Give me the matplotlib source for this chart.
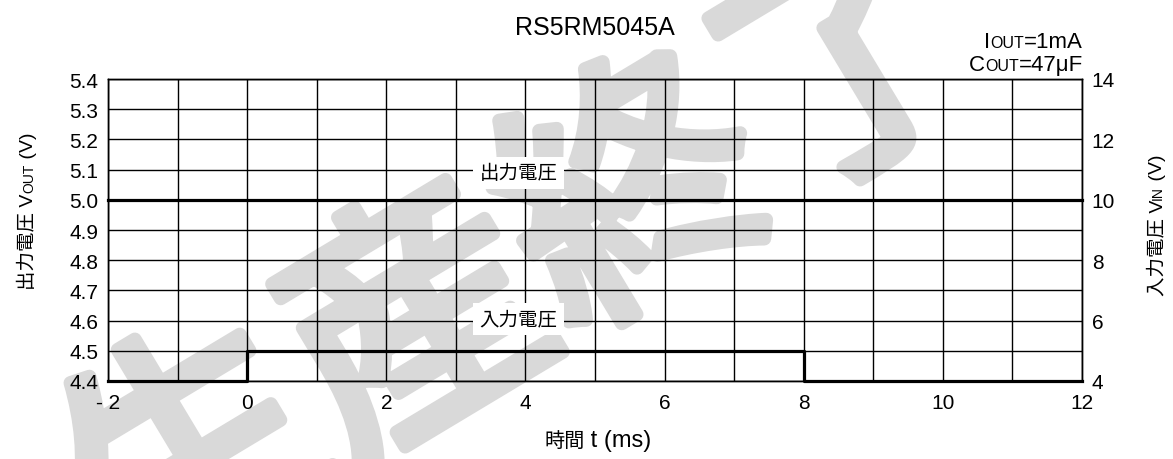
import matplotlib
matplotlib.use("Agg")
import matplotlib.pyplot as plt
import matplotlib.patheffects as pe
import numpy as np

plt.rcParams['font.family'] = ['Liberation Sans', 'Noto Sans CJK JP']

# ---- data ----
title = "RS5RM5045A"
t_out = [-2, 12]
v_out = [5.0, 5.0]
t_in = [-2, 0, 8, 12]
v_in = [4, 5, 4, 4]
x_ticks = [-2, 0, 2, 4, 6, 8, 10, 12]
x_ticklabels = ["- 2", "0", "2", "4", "6", "8", "10", "12"]
y_left_ticks = [4.4, 4.5, 4.6, 4.7, 4.8, 4.9, 5.0, 5.1, 5.2, 5.3, 5.4]
y_right_ticks = [4, 6, 8, 10, 12, 14]
label_out = "出力電圧"
label_in = "入力電圧"
watermark = "生産終了"

W, H = 1173, 460
fig = plt.figure(figsize=(W / 100, H / 100), dpi=100)
fig.patch.set_facecolor('white')

L, R, T, B = 108, 1082, 80, 382
ax = fig.add_axes([L / W, 1 - B / H, (R - L) / W, (B - T) / H])
ax.set_facecolor('none')
ax2 = ax.twinx()

# watermark
wm_color = '#d9d9d9'
fig.text(530 / W, 1 - 270 / H, watermark, fontsize=185, color=wm_color,
         rotation=31, rotation_mode='anchor', ha='center', va='center',
         family='Noto Sans CJK JP', fontweight='normal', zorder=-5,
         path_effects=[pe.withStroke(linewidth=10, foreground=wm_color)])

ax.set_xlim(-2, 12)
ax.set_ylim(4.4, 5.4)
ax.set_xticks(x_ticks)
ax.set_xticklabels(x_ticklabels)
ax.set_xticks(np.arange(-1, 12, 2), minor=True)
ax.set_yticks(y_left_ticks)
ax.set_yticklabels([f"{v:.1f}" for v in y_left_ticks])
ax.grid(True, which='both', color='black', lw=1.0)
ax.tick_params(which='both', length=0, labelsize=15, pad=7)
ax.tick_params(axis='x', pad=9)

ax2.set_ylim(4, 14)
ax2.set_yticks(y_right_ticks)
ax2.tick_params(length=0, labelsize=15, pad=7)

for a in (ax, ax2):
    for s in a.spines.values():
        s.set_linewidth(1.0)
        s.set_color('black')

ax.plot(t_out, v_out, color='black', lw=2.3, clip_on=False, zorder=4)
ax2.plot(t_in, v_in, color='black', lw=2.3, drawstyle='steps-post', clip_on=False, zorder=4)

box = dict(boxstyle='square,pad=0.35', facecolor='white', edgecolor='none')
ax.text(3.9, 5.088, label_out, fontsize=14, ha='center', va='center', bbox=box, zorder=5)
ax.text(3.9, 4.605, label_in, fontsize=14, ha='center', va='center', bbox=box, zorder=5)

fig.text(595 / W, 1 - 28 / H, title, fontsize=18, ha='center', va='center')

renderer = fig.canvas.get_renderer()


def rich(x_px, y_px, pieces, rotation=0, align='left'):
    widths = []
    for s, size in pieces:
        t = fig.text(0, 0, s, fontsize=size)
        widths.append(t.get_window_extent(renderer).width)
        t.remove()
    total = sum(widths)
    off = {'left': 0, 'center': -total / 2, 'right': -total}[align]
    d = np.array([np.cos(np.radians(rotation)), np.sin(np.radians(rotation))])
    pos = np.array([x_px, y_px], dtype=float) + d * off
    for (s, size), w in zip(pieces, widths):
        fig.text(pos[0] / W, pos[1] / H, s, fontsize=size, rotation=rotation,
                 rotation_mode='anchor', ha='left', va='baseline')
        pos = pos + d * w


rich(1083, H - 48, [("I", 16), ("OUT", 11.5), ("=1mA", 16)], align='right')
rich(1083, H - 71, [("C", 16), ("OUT", 11.5), ("=47μF", 16)], align='right')
rich(33, H - 211, [("出力電圧 V", 14), ("OUT", 10), (" (V)", 14)], rotation=90, align='center')
rich(1162, H - 225, [("入力電圧 V", 14), ("IN", 10), (" (V)", 14)], rotation=90, align='center')
rich(598, H - 447, [("時間", 14.5), (" t (ms)", 17)], align='center')

fig.savefig("out.png", dpi=100, facecolor='white')
